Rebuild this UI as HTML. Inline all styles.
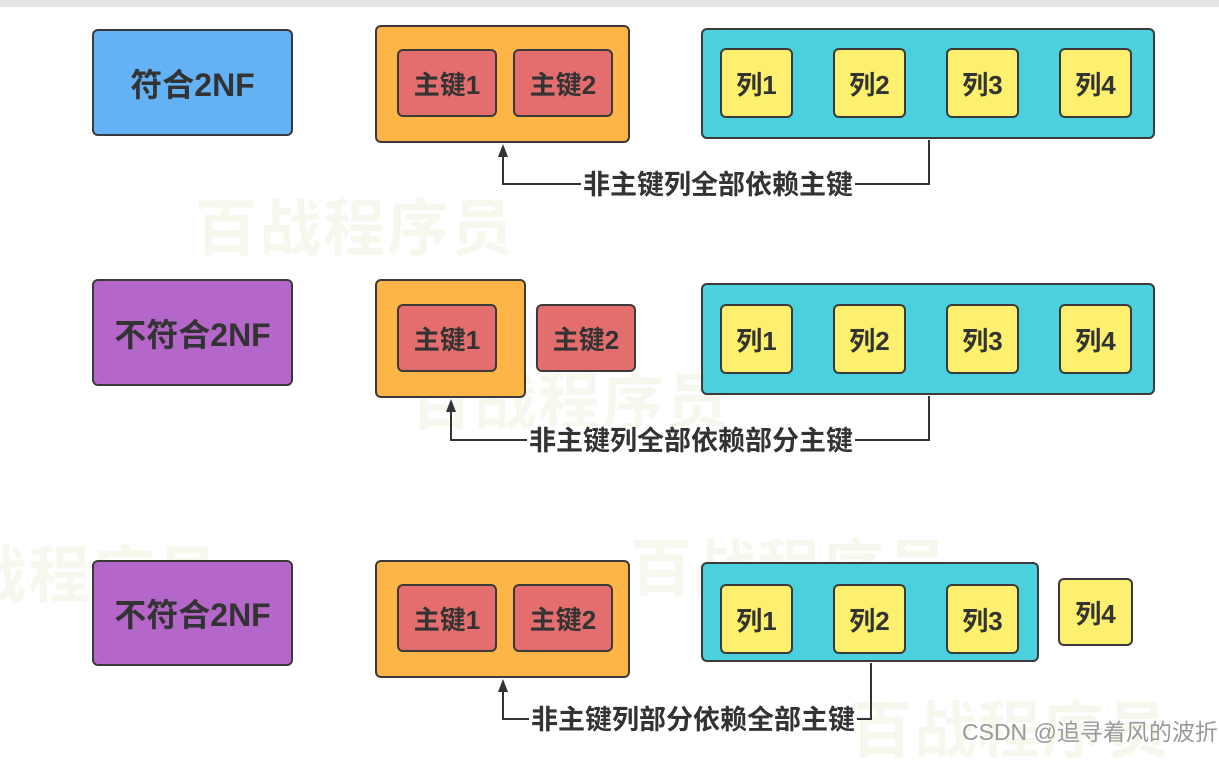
<!DOCTYPE html>
<html><head><meta charset="utf-8"><style>
*{margin:0;padding:0;box-sizing:border-box}
body{width:1219px;height:747px;background:#fff;position:relative;overflow:hidden;font-family:"Liberation Sans","Noto Sans CJK SC",sans-serif;}
.b{position:absolute;border:2.5px solid #3a3a3a;border-radius:6px;display:flex;align-items:center;justify-content:center;font-weight:bold;color:#333;font-size:26px}
.lab{font-size:32px}
.blue{background:#62b2f5}.pur{background:#b566c9}.or{background:#fdb548}.red{background:#e46e6e}.cy{background:#4bd0de}.ye{background:#fdf06e}
.t{position:absolute;font-weight:bold;font-size:27px;color:#333;background:#fff;padding:0 2px;line-height:30px;white-space:nowrap}
.wm{position:absolute;font-weight:bold;font-size:62px;color:#f6f8ee;white-space:nowrap;letter-spacing:2px}
</style></head><body>
<div style="position:absolute;left:0;top:0;width:1219px;height:7px;background:#e4e4e4"></div>
<div class="wm" style="left:195px;top:178px">百战程序员</div>
<div class="wm" style="left:410px;top:352px">百战程序员</div>
<div class="wm" style="left:-100px;top:525px">百战程序员</div>
<div class="wm" style="left:630px;top:518px">百战程序员</div>
<div class="wm" style="left:850px;top:680px">百战程序员</div>

<svg style="position:absolute;left:0;top:0" width="1219" height="747">
<g fill="none" stroke="#333" stroke-width="2">
<polyline points="929,140 929,184 503,184 503,155"/>
<polyline points="929,396 929,440 451,440 451,410"/>
<polyline points="871,663 871,719 503,719 503,690"/>
</g>
<g fill="#333">
<polygon points="503,144 498,157 508,157"/>
<polygon points="451,399 446,412 456,412"/>
<polygon points="503,679 498,692 508,692"/>
</g>
</svg>
<div class="t" style="left:581px;top:170px">非主键列全部依赖主键</div>
<div class="t" style="left:527px;top:426px">非主键列全部依赖部分主键</div>
<div class="t" style="left:529px;top:705px">非主键列部分依赖全部主键</div>

<!-- row1 -->
<div class="b lab blue" style="left:92px;top:29px;width:201px;height:107px">符合2NF</div>
<div class="b or" style="left:375px;top:25px;width:255px;height:118px"></div>
<div class="b red" style="left:397px;top:49px;width:100px;height:68px">主键1</div>
<div class="b red" style="left:513px;top:49px;width:100px;height:68px">主键2</div>
<div class="b cy" style="left:701px;top:28px;width:454px;height:111px"></div>
<div class="b ye" style="left:720px;top:48px;width:73px;height:70px">列1</div>
<div class="b ye" style="left:833px;top:48px;width:73px;height:70px">列2</div>
<div class="b ye" style="left:946px;top:48px;width:73px;height:70px">列3</div>
<div class="b ye" style="left:1059px;top:48px;width:73px;height:70px">列4</div>

<!-- row2 -->
<div class="b lab pur" style="left:92px;top:279px;width:201px;height:107px">不符合2NF</div>
<div class="b or" style="left:375px;top:279px;width:151px;height:119px"></div>
<div class="b red" style="left:397px;top:304px;width:100px;height:68px">主键1</div>
<div class="b red" style="left:536px;top:304px;width:100px;height:68px">主键2</div>
<div class="b cy" style="left:701px;top:283px;width:454px;height:112px"></div>
<div class="b ye" style="left:720px;top:304px;width:73px;height:70px">列1</div>
<div class="b ye" style="left:833px;top:304px;width:73px;height:70px">列2</div>
<div class="b ye" style="left:946px;top:304px;width:73px;height:70px">列3</div>
<div class="b ye" style="left:1059px;top:304px;width:73px;height:70px">列4</div>

<!-- row3 -->
<div class="b lab pur" style="left:92px;top:560px;width:201px;height:106px">不符合2NF</div>
<div class="b or" style="left:375px;top:560px;width:255px;height:118px"></div>
<div class="b red" style="left:397px;top:584px;width:100px;height:68px">主键1</div>
<div class="b red" style="left:513px;top:584px;width:100px;height:68px">主键2</div>
<div class="b cy" style="left:701px;top:562px;width:338px;height:100px"></div>
<div class="b ye" style="left:720px;top:584px;width:73px;height:70px">列1</div>
<div class="b ye" style="left:833px;top:584px;width:73px;height:70px">列2</div>
<div class="b ye" style="left:946px;top:584px;width:73px;height:70px">列3</div>
<div class="b ye" style="left:1058px;top:578px;width:75px;height:68px">列4</div>

<div style="position:absolute;left:962px;top:713px;font-size:23px;color:#999;white-space:nowrap">CSDN @追寻着风的波折</div>
</body></html>
